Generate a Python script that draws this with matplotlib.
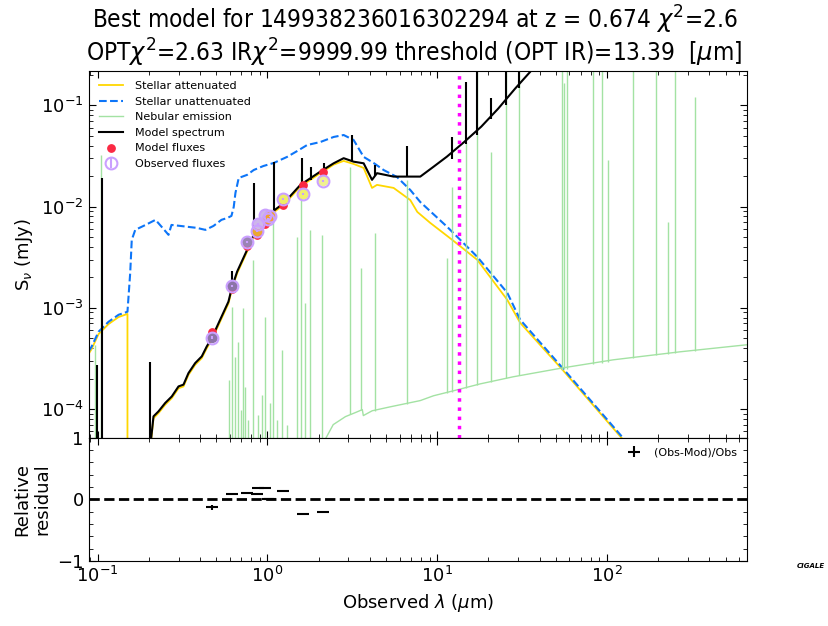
import matplotlib
matplotlib.use("Agg")
import matplotlib.pyplot as plt
from matplotlib.ticker import MultipleLocator

# ---- data (wavelength in micron, flux in mJy) ----
unatt_wl = [0.0885, 0.0922, 0.1014, 0.116, 0.133, 0.150, 0.1557, 0.159, 0.1667,
            0.1916, 0.2194, 0.2412, 0.2617, 0.2724, 0.3078, 0.3429, 0.3823,
            0.4318, 0.4813, 0.5363, 0.5816, 0.6141, 0.6335, 0.6483, 0.6778,
            0.7597, 0.8307, 0.9473, 1.089, 1.306, 1.501, 1.712, 2.050, 2.455,
            2.811, 3.219, 3.686, 4.220, 4.832, 5.793, 6.937, 7.943, 11.45,
            15.02, 17.19, 25.81, 30.77, 55.10, 122.5, 352.4]
unatt_fl = [3.7e-4, 4.12e-4, 5.8e-4, 7.27e-4, 8.53e-4, 9.14e-4, 2.22e-3, 4.69e-3,
            5.89e-3, 6.59e-3, 7.40e-3, 6.17e-3, 5.26e-3, 6.59e-3, 6.44e-3,
            6.30e-3, 6.17e-3, 5.89e-3, 6.44e-3, 7.40e-3, 7.73e-3, 8.09e-3,
            9.93e-3, 1.365e-2, 1.92e-2, 2.06e-2, 2.30e-2, 2.52e-2, 2.70e-2,
            3.10e-2, 3.55e-2, 4.06e-2, 4.35e-2, 4.88e-2, 5.10e-2, 4.55e-2,
            3.10e-2, 2.70e-2, 2.30e-2, 1.96e-2, 1.46e-2, 1.11e-2, 6.30e-3,
            4.00e-3, 3.19e-3, 1.41e-3, 7.62e-4, 2.50e-4, 5.3e-5, 6.9e-6]

att_wl = [0.0885, 0.0922, 0.1014, 0.116, 0.133, 0.150, 0.1501, 0.2035, 0.2135,
          0.2285, 0.2501, 0.2736, 0.2996, 0.3206, 0.3429, 0.3756, 0.4108,
          0.4395, 0.4703, 0.5268, 0.5897, 0.6199, 0.6635, 0.7597, 0.8128,
          0.8697, 1.041, 1.247, 1.564, 2.050, 2.455, 2.811, 3.219, 3.686,
          4.129, 4.418, 5.534, 6.937, 7.629, 9.095, 12.25, 17.19, 25.81,
          30.77, 55.10, 122.5, 352.4]
att_fl = [3.5e-4, 3.9e-4, 5.5e-4, 6.9e-4, 8.1e-4, 8.7e-4, 1e-8, 3.8e-5, 8.1e-5,
          9.1e-5, 1.1e-4, 1.28e-4, 1.6e-4, 1.67e-4, 2.17e-4, 2.73e-4, 3.18e-4,
          3.98e-4, 4.82e-4, 7.3e-4, 1.1e-3, 1.55e-3, 2.19e-3, 3.6e-3, 4.7e-3,
          5.65e-3, 8.3e-3, 1.04e-2, 1.58e-2, 2.14e-2, 2.6e-2, 2.83e-2, 2.64e-2,
          2.41e-2, 1.53e-2, 1.64e-2, 1.53e-2, 1.16e-2, 8.86e-3, 6.90e-3,
          4.69e-3, 2.98e-3, 1.20e-3, 7.1e-4, 2.40e-4, 5.1e-5, 6.6e-6]

model_wl = [0.2035, 0.2135, 0.2285, 0.2501, 0.2736, 0.2996, 0.3206, 0.3429,
            0.3756, 0.4108, 0.4395, 0.4703, 0.5268, 0.5897, 0.6199, 0.6635,
            0.7597, 0.8128, 0.8697, 1.041, 1.247, 1.564, 2.050, 2.455, 2.811,
            3.219, 3.686, 4.129, 4.418, 5.534, 6.634, 7.943, 9.511, 11.40,
            14.42, 18.15, 22.85, 28.76, 35.25, 43.18]
model_fl = [4.0e-5, 8.45e-5, 9.47e-5, 1.145e-4, 1.33e-4, 1.67e-4, 1.74e-4,
            2.26e-4, 2.84e-4, 3.31e-4, 4.15e-4, 5.02e-4, 7.62e-4, 1.15e-3,
            1.62e-3, 2.28e-3, 3.74e-3, 4.88e-3, 5.89e-3, 8.61e-3, 1.08e-2,
            1.64e-2, 2.22e-2, 2.68e-2, 3.01e-2, 2.78e-2, 2.68e-2, 1.84e-2,
            2.14e-2, 1.98e-2, 1.98e-2, 1.98e-2, 2.48e-2, 3.12e-2, 4.36e-2,
            6.17e-2, 9.31e-2, 0.147, 0.215, 0.336]

# emission spikes on the model spectrum: wavelength, peak, foot
spike_wl = [0.0991, 0.1056, 0.2035, 0.62, 0.838, 1.0987, 1.595, 1.813, 2.146,
            3.139, 4.32, 6.66, 12.25, 14.8, 17.19, 20.83, 25.42, 30.42]
spike_top = [2.74e-4, 1.92e-2, 2.93e-4, 2.3e-3, 1.71e-2, 2.76e-2, 3.03e-2,
             2.47e-2, 2.70e-2, 5.10e-2, 2.58e-2, 3.97e-2, 4.88e-2, 0.170, 0.5,
             0.118, 0.5, 0.5]
spike_base = [1e-7, 1e-7, 1e-7, 1.6e-3, 5.0e-3, 8.9e-3, 1.68e-2, 1.85e-2,
              2.25e-2, 2.80e-2, 2.0e-2, 1.98e-2, 2.95e-2, 4.2e-2, 5.1e-2,
              7.3e-2, 0.10, 0.15]

# nebular continuum
neb_wl = [2.10, 2.44, 2.88, 3.29, 3.62, 3.67, 4.14, 5.29, 7.94, 9.50, 12.4,
          17.9, 28.0, 55.0, 108.6, 267.8, 664.0]
neb_fl = [4.4e-5, 7.0e-5, 8.4e-5, 9.2e-5, 9.85e-5, 8.6e-5, 9.6e-5, 1.05e-4,
          1.21e-4, 1.35e-4, 1.51e-4, 1.77e-4, 2.08e-4, 2.55e-4, 3.06e-4,
          3.67e-4, 4.31e-4]

# nebular lines: wavelength, peak, foot
line_wl = [0.0967, 0.1051, 0.5975, 0.6225, 0.6483, 0.6752, 0.7031, 0.7224,
           0.7423, 0.7731, 0.8273, 0.8854, 0.9346, 0.9732, 1.041, 1.085, 1.145,
           1.225, 1.311, 1.501, 1.585, 1.673, 1.790, 2.106, 3.077, 3.572, 4.319,
           6.66, 11.45, 12.25, 14.8, 17.19, 20.83, 25.42, 30.42, 54.49, 55.99,
           58.0, 82.7, 93.5, 101.6, 142.0, 194.3, 229.6, 251.5, 327.5]
line_top = [4.31e-4, 3.24e-2, 1.95e-4, 1.02e-3, 3.28e-4, 4.61e-4, 9.8e-5, 1.0e-3,
            1.66e-4, 7.8e-5, 2.98e-3, 8.8e-5, 1.38e-4, 8.15e-4, 1.15e-4, 6.90e-3,
            7.8e-5, 3.85e-4, 6.98e-5, 5.02e-3, 2.15e-2, 1.12e-3, 5.89e-3,
            5.26e-3, 2.47e-2, 2.48e-3, 5.50e-3, 1.84e-2, 3.10e-3, 1.56e-2,
            4.25e-2, 0.5, 3.47e-2, 0.5, 0.5, 0.5, 0.166, 0.5, 0.5, 0.5, 2.89e-2,
            0.5, 0.5, 7.03e-3, 0.5, 0.121]
line_base = [1e-7] * 23 + [5.0e-5, 9.0e-5, 9.8e-5, 9.6e-5, 1.13e-4, 1.45e-4,
                           1.48e-4, 1.62e-4, 1.73e-4, 1.86e-4, 2.03e-4, 2.18e-4,
                           2.45e-4, 2.5e-4, 2.5e-4, 2.80e-4, 2.86e-4, 2.93e-4,
                           3.21e-4, 3.44e-4, 3.5e-4, 3.6e-4, 3.75e-4]

# photometry
phot_wl = [0.475, 0.622, 0.763, 0.873, 0.885, 0.973, 1.014, 1.041, 1.242,
           1.628, 2.135]
obs_fl = [5.06e-4, 1.65e-3, 4.49e-3, 5.75e-3, 6.75e-3, 8.28e-3, 7.56e-3, 8.0e-3,
          1.19e-2, 1.33e-2, 1.80e-2]
obs_err = [2e-5, 4e-5, 8e-5, 1e-4, 1e-4, 1.5e-4, 1.5e-4, 1.5e-4, 3e-4, 3e-4, 4e-4]
mod_fl = [5.72e-4, 1.52e-3, 4.04e-3, 5.29e-3, 5.47e-3, 6.79e-3, 7.48e-3, 8.0e-3,
          1.035e-2, 1.65e-2, 2.18e-2]
obs_face = ["#8c74a8", "#8c74a8", "#9a84b4", "#eaa830", "#cdb6ea", "#cdb6ea",
            "#f0a030", "#f0a030", "#eeee66", "#f0f070", "#f0f090"]
resid = [-0.13, 0.08, 0.10, 0.08, 0.19, 0.18, 0.01, 0.0, 0.13, -0.24, -0.21]
resid_err = [0.04, 0.01, 0.01, 0.01, 0.01, 0.01, 0.01, 0.01, 0.01, 0.01, 0.01]

threshold = 13.39
xmin, xmax = 0.0885, 666.0
ymin, ymax = 5.2e-5, 0.219

neb_color = "#a3e2a3"

fig = plt.figure(figsize=(8.29, 6.26), dpi=100)
ax1 = fig.add_axes([0.1068, 0.3008, 0.7943, 0.5858])
ax2 = fig.add_axes([0.1068, 0.1038, 0.7943, 0.197])

ax1.plot(att_wl, att_fl, color="gold", lw=1.3, label="Stellar attenuated")
ax1.plot(unatt_wl, unatt_fl, color="xkcd:deep sky blue", ls="--", lw=1.5,
         label="Stellar unattenuated")
ax1.vlines(line_wl, line_base, line_top, color=neb_color, lw=1)
ax1.plot(neb_wl, neb_fl, color=neb_color, lw=1, label="Nebular emission")
ax1.vlines(spike_wl, spike_base, spike_top, color="k", lw=1.5)
ax1.plot(model_wl, model_fl, color="k", lw=1.5, label="Model spectrum")
ax1.scatter(phot_wl, mod_fl, marker="o", color="xkcd:strawberry", s=28,
            zorder=3, label="Model fluxes")
ax1.scatter(phot_wl, obs_fl, marker="o", c=obs_face, s=60, zorder=4,
            linewidths=0)
ax1.errorbar(phot_wl, obs_fl, yerr=obs_err, ls="", marker="o",
             markerfacecolor="none", markersize=8.5, markeredgewidth=1.5,
             markeredgecolor="xkcd:pastel purple", ecolor="xkcd:pastel purple",
             capsize=0, zorder=5, label="Observed fluxes")
ax1.axvline(threshold, color="magenta", ls=":", lw=2.5)

ax1.set_xscale("log")
ax1.set_yscale("log")
ax1.set_xlim(xmin, xmax)
ax1.set_ylim(ymin, ymax)
ax1.set_ylabel(r"S$_\nu$ (mJy)", fontsize=13)
ax1.tick_params(axis="both", which="both", direction="in", top=True,
                right=True, labelbottom=False, labelsize=13)
ax1.tick_params(which="major", length=5)
ax1.tick_params(which="minor", length=3)
ax1.legend(loc="upper left", fontsize=8, frameon=False, handlelength=2.2,
           handletextpad=1.1)

ax2.errorbar(phot_wl, resid, yerr=resid_err, ls="", marker="_", markersize=8,
             markeredgewidth=1.5, color="k", capsize=0, label="(Obs-Mod)/Obs")
ax2.plot([xmin, xmax], [0, 0], ls="--", color="k", lw=2)
ax2.set_xscale("log")
ax2.set_xlim(xmin, xmax)
ax2.set_ylim(-1, 1)
ax2.set_yticks([-1, 0, 1])
ax2.yaxis.set_minor_locator(MultipleLocator(0.2))
ax2.set_xlabel(r"Observed $\lambda$ ($\mu$m)", fontsize=13)
ax2.set_ylabel("Relative\nresidual", fontsize=13)
ax2.tick_params(axis="both", which="both", direction="in", top=True,
                right=True, labelsize=13)
ax2.tick_params(which="major", length=5)
ax2.tick_params(which="minor", length=3)
ax2.legend(loc="upper right", fontsize=8, frameon=False)

fig.suptitle("Best model for 149938236016302294 at z = 0.674 $\\chi^2$=2.6\n"
             "OPT$\\chi^2$=2.63 IR$\\chi^2$=9999.99 threshold (OPT IR)=13.39  [$\\mu$m]",
             fontsize=17.5, y=0.994, fontstretch="condensed", linespacing=1.05)
fig.text(0.978, 0.093, "CIGALE", fontsize=5, fontweight="bold",
         fontstyle="italic", ha="center")

fig.savefig("out.png", dpi=100)
